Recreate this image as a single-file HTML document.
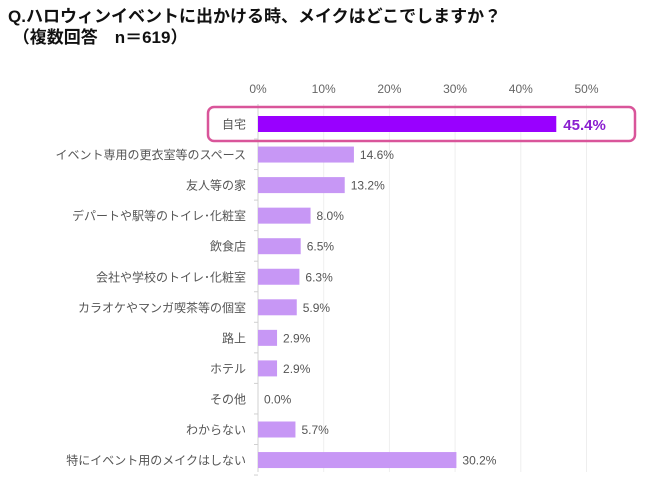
<!DOCTYPE html>
<html><head><meta charset="utf-8"><style>
body{margin:0;width:650px;height:486px;background:#fff;overflow:hidden;font-family:"Liberation Sans","Noto Sans CJK JP",sans-serif;}
#title{position:absolute;left:8px;top:6px;font-size:17px;font-weight:bold;color:#111;line-height:21px;}
svg{position:absolute;left:0;top:0;}
</style></head><body>
<div id="title">Q.ハロウィンイベントに出かける時、メイクはどこでしますか？<br>&nbsp;（複数回答　n＝619）</div>
<svg id="chart" width="650" height="486"></svg>
<script>
const categories=["自宅","イベント専用の更衣室等のスペース","友人等の家","デパートや駅等のトイレ･化粧室","飲食店","会社や学校のトイレ･化粧室","カラオケやマンガ喫茶等の個室","路上","ホテル","その他","わからない","特にイベント用のメイクはしない"];
const values=[45.4,14.6,13.2,8.0,6.5,6.3,5.9,2.9,2.9,0.0,5.7,30.2];
const ticks=[0,10,20,30,40,50];
const NS="http://www.w3.org/2000/svg";
const svg=document.getElementById('chart');
const x=v=>258+v*6.57;
const y=i=>124+i*30.55;
function mk(t,a,txt){const e=document.createElementNS(NS,t);for(const k in a)e.setAttribute(k,a[k]);if(txt!==undefined)e.textContent=txt;svg.appendChild(e);return e;}
ticks.forEach(t=>{
 const g=mk('line',{x1:x(t),x2:x(t),y1:104,y2:472,stroke:t===0?'#d0d0d0':'#eeeeee','stroke-width':1});
 
 
 const l=mk('text',{x:x(t),y:93,'text-anchor':'middle','font-size':12,fill:'#666'},t+'%');
 
 
});
const hb=mk('rect',{x:208,y:107,width:427,height:34,rx:6,fill:'none',stroke:'#d9559a','stroke-width':2.5});


categories.forEach((c,i)=>{
 const cy=y(i);
 const tk=mk('line',{x1:254,x2:258,y1:cy+15,y2:cy+15,stroke:'#d0d0d0'});
 
 
 const lb=mk('text',{x:246,y:cy+4.5,'text-anchor':'end','font-size':12,fill:'#555'},c);
 
 
 const b=mk('rect',{x:x(0),y:cy-8,width:x(values[i])-x(0),height:16,fill:i===0?'#9900ff':'#c797f5'});
 
 
 const v=mk('text',{x:x(values[i])+(i===0?7:6),y:cy+(i===0?6:4.5),'font-size':i===0?15:12,'font-weight':i===0?'bold':'normal',fill:i===0?'#8a1fd0':'#555'},values[i].toFixed(1)+'%');
 
 
});
</script>
</body></html>
